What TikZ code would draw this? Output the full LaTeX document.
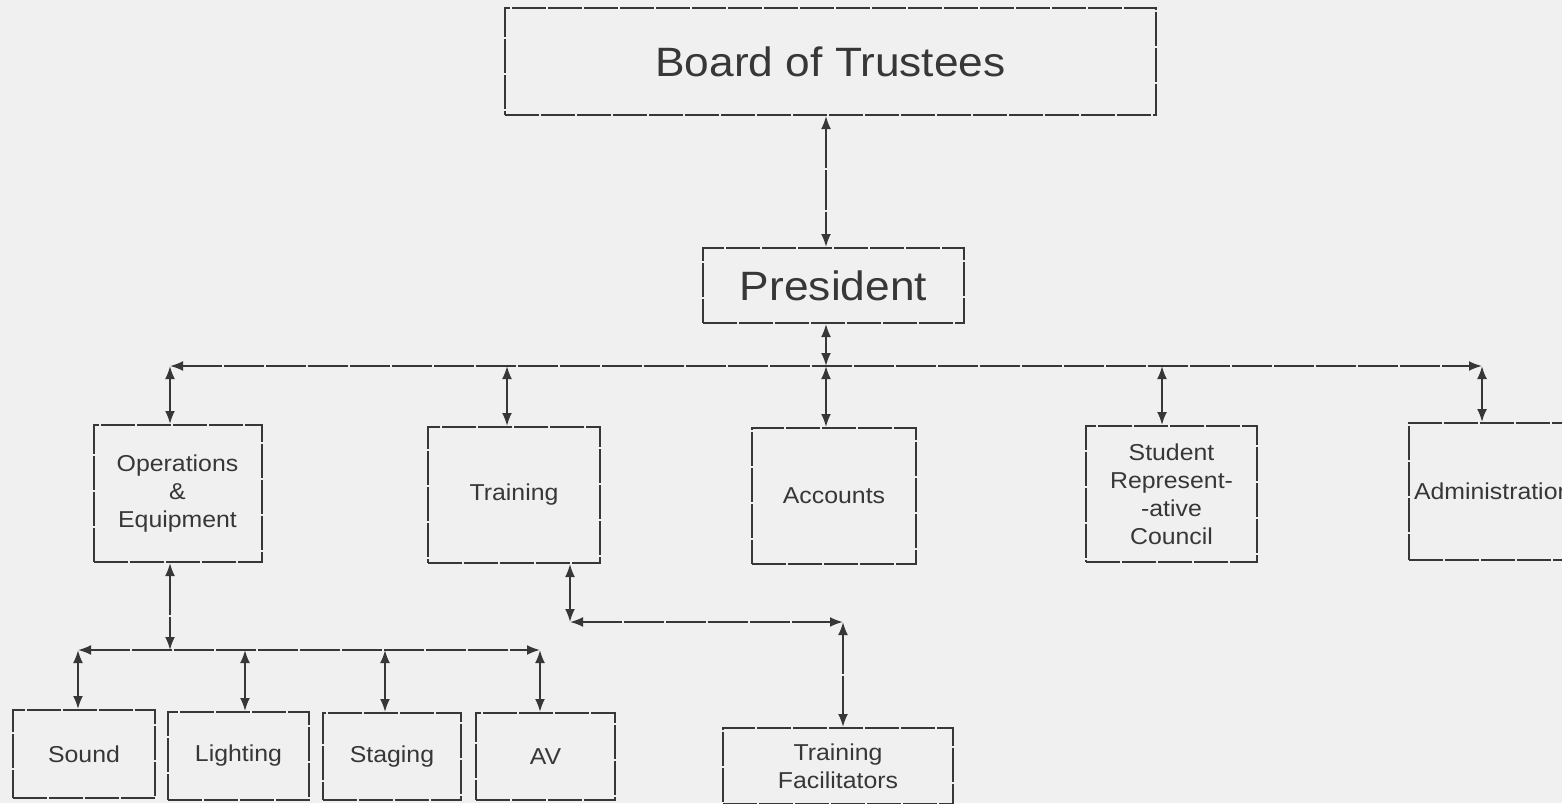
\documentclass[tikz,border=0pt]{standalone}
\usepackage{fontspec}
\setmainfont{Liberation Sans}
\newfontfamily\boxfont[FakeStretch=1.08]{Liberation Sans}
\usetikzlibrary{arrows.meta}
\definecolor{bg}{RGB}{240,240,240}
\definecolor{ink}{RGB}{55,55,55}
\tikzset{
  box/.style={draw=ink, line width=2pt, dash pattern=on 34pt off 2pt,
    inner sep=0pt, align=center, text=ink,
    font=\boxfont\fontsize{23}{28}\selectfont},
  bigbox/.style={box, font=\boxfont\fontsize{41}{48}\selectfont},
  conn/.style={draw=ink, line width=2pt, dash pattern=on 40pt off 2pt,
    {Latex[length=13pt,width=10pt]}-{Latex[length=13pt,width=10pt]}}
}
\begin{document}
\begin{tikzpicture}[x=1pt,y=-1pt]
\useasboundingbox (0,0) rectangle (1562,803);
\fill[bg] (0,0) rectangle (1562,803);
\clip (0,0) rectangle (1562,803);

% top level
\node[bigbox, minimum width=651pt, minimum height=107pt] (board) at (830.5,61.5) {Board of Trustees};
\node[bigbox, minimum width=261pt, minimum height=75pt] (pres) at (833.5,285.5) {President};

% departments
\node[box, minimum width=168pt, minimum height=137pt] (ops) at (177.5,493.5) {Operations\\\&\\Equipment};
\node[box, minimum width=172pt, minimum height=136pt] (train) at (514,495) {Training};
\node[box, minimum width=164pt, minimum height=136pt] (acc) at (834,496) {Accounts};
\node[box, minimum width=171pt, minimum height=136pt] (src) at (1171.5,494) {Student\\Represent-\\-ative\\Council};
\node[box, anchor=west, text width=172pt, inner xsep=5pt, align=left, minimum height=137pt] (adm) at (1408,491.5) {Administration};

% sub units
\node[box, minimum width=142pt, minimum height=88pt] (sound) at (84,754) {Sound};
\node[box, minimum width=141pt, minimum height=88pt] (light) at (238.5,756) {Lighting};
\node[box, minimum width=138pt, minimum height=87pt] (stage) at (392,756.5) {Staging};
\node[box, minimum width=139pt, minimum height=87pt] (av) at (545.5,756.5) {AV};
\node[box, minimum width=230pt, minimum height=76pt] (tf) at (838,766) {Training\\Facilitators};

% junction coordinates
\coordinate (bA) at (170,366);
\coordinate (bB) at (507,366);
\coordinate (bC) at (826,366);
\coordinate (bD) at (1162,366);
\coordinate (bE) at (1482,366);
\coordinate (sA) at (78,650);
\coordinate (sB) at (170,650);
\coordinate (sC) at (245,650);
\coordinate (sD) at (385,650);
\coordinate (sE) at (540,650);
\coordinate (tA) at (570,622);
\coordinate (tB) at (843,622);

% connectors
\draw[conn] (board.south -| bC) -- (pres.north -| bC);
\draw[conn] (pres.south -| bC) -- (bC);
\draw[conn] (bA) -- (bE);
\draw[conn] (bA) -- (ops.north -| bA);
\draw[conn] (bB) -- (train.north -| bB);
\draw[conn] (bC) -- (acc.north -| bC);
\draw[conn] (bD) -- (src.north -| bD);
\draw[conn] (bE) -- (adm.north -| bE);

\draw[conn] (ops.south -| sB) -- (sB);
\draw[conn] (sA) -- (sE);
\draw[conn] (sA) -- (sound.north -| sA);
\draw[conn] (sC) -- (light.north -| sC);
\draw[conn] (sD) -- (stage.north -| sD);
\draw[conn] (sE) -- (av.north -| sE);

\draw[conn] (train.south -| tA) -- (tA);
\draw[conn] (tA) -- (tB);
\draw[conn] (tB) -- (tf.north -| tB);
\end{tikzpicture}
\end{document}
